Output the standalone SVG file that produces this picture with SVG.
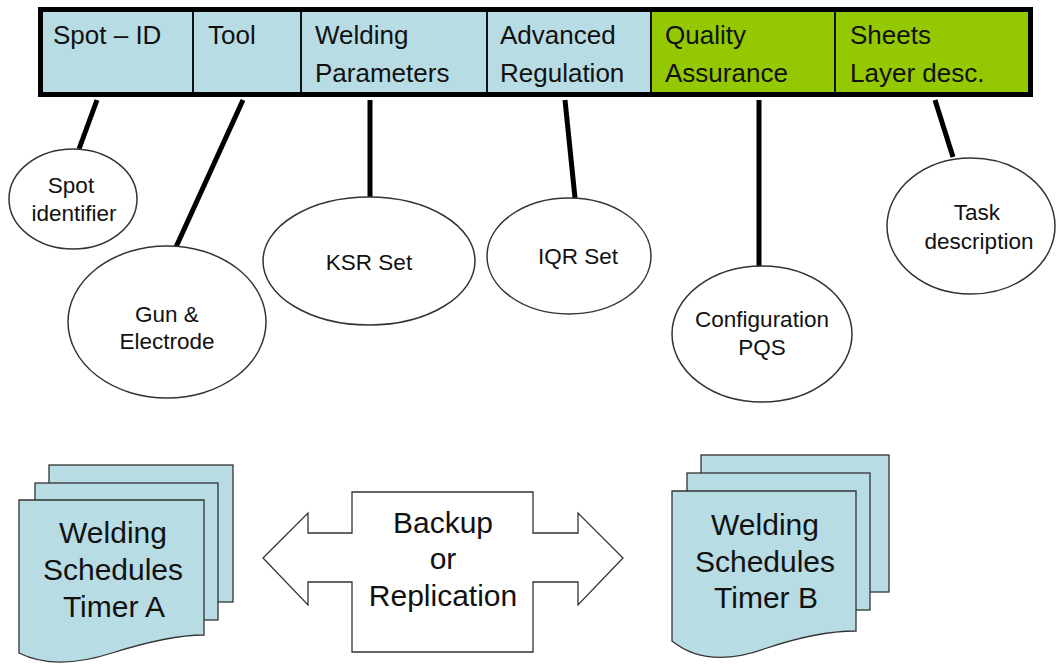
<svg xmlns="http://www.w3.org/2000/svg" width="1056" height="666" viewBox="0 0 1056 666">
<style>
.hdr{font-family:"Liberation Sans",Arial,sans-serif;font-size:26px;fill:#111}
.el{font-family:"Liberation Sans",Arial,sans-serif;font-size:22.5px;fill:#111;text-anchor:middle}
.big{font-family:"Liberation Sans",Arial,sans-serif;font-size:30px;fill:#111;text-anchor:middle}
.blue{fill:#b7dce4}
.green{fill:#94c800}
.div{stroke:#111;stroke-width:2}
.ell{fill:#fff;stroke:#333;stroke-width:1.5}
.page{fill:#b7dce4;stroke:#333;stroke-width:1.3}
.conn{stroke:#000;stroke-width:5;fill:none}
</style>
<rect width="1056" height="666" fill="#fff"/>

<g id="header">
  <rect class="blue" x="40" y="9" width="611" height="86"/>
  <rect class="green" x="651" y="9" width="380" height="86"/>
  <line class="div" x1="193" y1="9" x2="193" y2="95"/>
  <line class="div" x1="301" y1="9" x2="301" y2="95"/>
  <line class="div" x1="487" y1="9" x2="487" y2="95"/>
  <line class="div" x1="651" y1="9" x2="651" y2="95"/>
  <line class="div" x1="835" y1="9" x2="835" y2="95"/>
  <rect x="40.5" y="9.5" width="990" height="85" fill="none" stroke="#000" stroke-width="5"/>
  <text class="hdr" x="53" y="44">Spot – ID</text>
  <text class="hdr" x="208" y="44">Tool</text>
  <text class="hdr" x="315" y="44">Welding</text>
  <text class="hdr" x="315" y="82">Parameters</text>
  <text class="hdr" x="500" y="44">Advanced</text>
  <text class="hdr" x="500" y="82">Regulation</text>
  <text class="hdr" x="665" y="44">Quality</text>
  <text class="hdr" x="665" y="82">Assurance</text>
  <text class="hdr" x="850" y="44">Sheets</text>
  <text class="hdr" x="850" y="82">Layer desc.</text>
</g>

<g id="connectors">
  <line class="conn" x1="97" y1="100" x2="79" y2="149"/>
  <line class="conn" x1="243" y1="100" x2="176" y2="247"/>
  <line class="conn" x1="370" y1="100" x2="370" y2="198"/>
  <line class="conn" x1="565" y1="100" x2="575" y2="198"/>
  <line class="conn" x1="759" y1="100" x2="759" y2="267"/>
  <line class="conn" x1="935" y1="100" x2="953" y2="157"/>
</g>

<g id="spot-identifier">
  <ellipse class="ell" cx="73" cy="199" rx="64" ry="50"/>
  <text class="el" x="71" y="193">Spot</text>
  <text class="el" x="74" y="221">identifier</text>
</g>
<g id="gun-electrode">
  <ellipse class="ell" cx="167" cy="322" rx="99" ry="76"/>
  <text class="el" x="167" y="322">Gun &amp;</text>
  <text class="el" x="167" y="349">Electrode</text>
</g>
<g id="ksr-set">
  <ellipse class="ell" cx="369" cy="261" rx="106" ry="64"/>
  <text class="el" x="369" y="270">KSR Set</text>
</g>
<g id="iqr-set">
  <ellipse class="ell" cx="569" cy="256" rx="82" ry="58"/>
  <text class="el" x="578" y="264">IQR Set</text>
</g>
<g id="configuration-pqs">
  <ellipse class="ell" cx="762" cy="334" rx="90" ry="68"/>
  <text class="el" x="762" y="327">Configuration</text>
  <text class="el" x="762" y="355">PQS</text>
</g>
<g id="task-description">
  <ellipse class="ell" cx="971" cy="226" rx="84" ry="68"/>
  <text class="el" x="977" y="220">Task</text>
  <text class="el" x="979" y="249">description</text>
</g>

<g id="schedules-a">
  <rect class="page" x="49" y="465" width="184" height="137"/>
  <rect class="page" x="35" y="483" width="183" height="137"/>
  <path class="page" d="M19,500 H204 V635 C182,635 150,641 112,653 C78,664 45,666 19,653 Z"/>
  <text class="big" x="113" y="543">Welding</text>
  <text class="big" x="113" y="580">Schedules</text>
  <text class="big" x="114" y="617">Timer A</text>
</g>

<g id="backup-replication">
  <path fill="#fff" stroke="#333" stroke-width="1.3" d="M263,558 L308,513 V533 H352 V492 H533 V533 H578 V513 L623,558 L578,605 V582 H533 V652 H352 V582 H308 V605 Z"/>
  <text class="big" x="443" y="533">Backup</text>
  <text class="big" x="443" y="569">or</text>
  <text class="big" x="443" y="606">Replication</text>
</g>

<g id="schedules-b">
  <rect class="page" x="701" y="455" width="188" height="137"/>
  <rect class="page" x="687" y="473" width="183" height="137"/>
  <path class="page" d="M672,491 H856 V631 C834,631 802,636 764,649 C730,661 698,662 672,641 Z"/>
  <text class="big" x="765" y="535">Welding</text>
  <text class="big" x="765" y="572">Schedules</text>
  <text class="big" x="766" y="608">Timer B</text>
</g>
</svg>
